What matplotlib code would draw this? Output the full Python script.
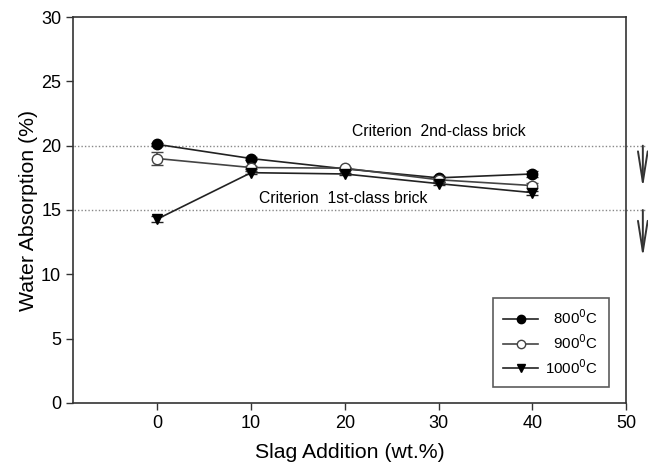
import matplotlib
matplotlib.use('Agg')
import matplotlib.pyplot as plt

plt.rcParams['font.family'] = ['Liberation Sans', 'DejaVu Sans']

slag = [0, 10, 20, 30, 40]
wa_800 = [20.1, 19.0, 18.2, 17.5, 17.8]
wa_900 = [19.0, 18.3, 18.25, 17.35, 16.9]
wa_1000 = [14.3, 17.9, 17.8, 17.05, 16.35]
err_800 = [0.1, 0.1, 0.1, 0.15, 0.25]
err_900 = [0.5, 0.15, 0.1, 0.15, 0.2]
err_1000 = [0.2, 0.1, 0.1, 0.1, 0.15]
labels = ['\u2007800$^0$C', '\u2007900$^0$C', '1000$^0$C']
criteria = [20, 15]
criteria_text = ['Criterion  2nd-class brick', 'Criterion  1st-class brick']

fig = plt.figure(figsize=(6.48, 4.70), dpi=100)
ax = fig.add_axes([0.1127, 0.1426, 0.966 - 0.1127, 0.9638 - 0.1426])

dark = '#222222'
c1 = ax.errorbar(slag, wa_800, yerr=err_800, color=dark, marker='o', ms=7.5,
                 mfc='black', mec='black', lw=1.2, capsize=4)
c2 = ax.errorbar(slag, wa_900, yerr=err_900, color='#444444', marker='o', ms=7.5,
                 mfc='white', mec='#444444', lw=1.2, capsize=4)
c3 = ax.errorbar(slag, wa_1000, yerr=err_1000, color=dark, marker='v', ms=7.5,
                 mfc='black', mec='black', lw=1.2, capsize=4)

# criterion lines run past the right axis
for c in criteria:
    ax.plot([-8.9, 52.0], [c, c], ls=(0, (1, 1.5)), color='#888888', lw=1.0,
            clip_on=False, zorder=1)
ax.text(30.0, 21.1, criteria_text[0], ha='center', va='center', fontsize=11.3)
ax.text(19.8, 15.9, criteria_text[1], ha='center', va='center', fontsize=11.3)

arrow_len = [3.3, 3.7]
for c, d in zip(criteria, arrow_len):
    ax.annotate('', xy=(51.8, c - d), xytext=(51.8, c),
                arrowprops=dict(arrowstyle='->,head_length=2.2,head_width=0.35',
                                color='#333333', lw=1.4, shrinkA=0, shrinkB=0),
                annotation_clip=False)

ax.set_xlim(-9, 50)
ax.set_ylim(0, 30)
ax.set_xticks([0, 10, 20, 30, 40, 50])
ax.set_yticks([0, 5, 10, 15, 20, 25, 30])
ax.tick_params(direction='out', length=5, width=1, colors='#333333',
               labelsize=13, labelcolor='black')
for s in ax.spines.values():
    s.set_color('#333333')
    s.set_linewidth(1.2)

ax.set_xlabel('Slag Addition (wt.%)', fontsize=15.3, labelpad=8)
ax.set_ylabel('Water Absorption (%)', fontsize=15.3, labelpad=2)

leg = ax.legend([c1[0], c2[0], c3[0]], labels, loc='lower right',
                bbox_to_anchor=(0.969, 0.041), borderaxespad=0, fontsize=10.8,
                frameon=True, fancybox=False, edgecolor='#333333',
                handlelength=2.3, handletextpad=0.5, borderpad=0.7,
                labelspacing=0.4, markerscale=0.8)
leg.get_frame().set_linewidth(1.2)

fig.savefig('out.png', dpi=100)
